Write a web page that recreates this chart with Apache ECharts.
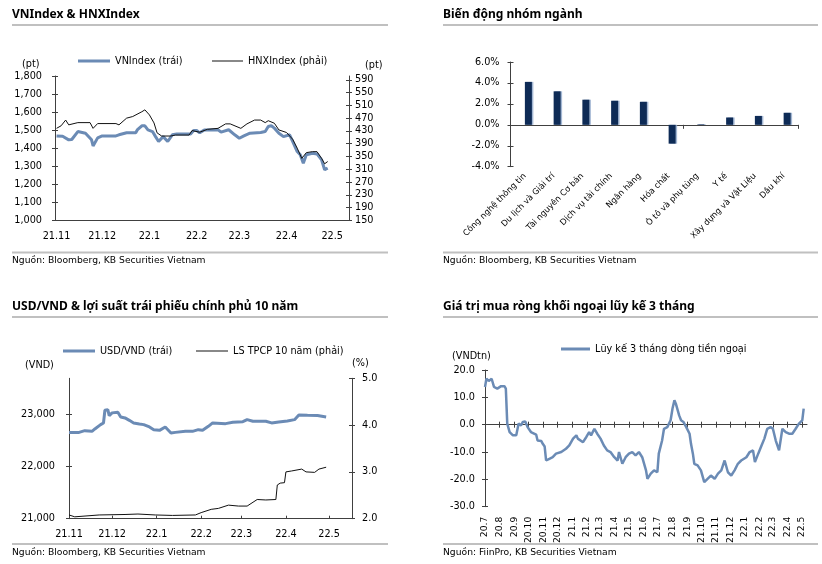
<!DOCTYPE html>
<html><head><meta charset="utf-8">
<script src="https://cdn.jsdelivr.net/npm/echarts@6/dist/echarts.min.js"></script>
<style>html,body{margin:0;padding:0;background:#fff}#c{width:822px;height:564px}</style>
</head><body><div id="c"></div>
<script>
// ---------------- DATA ----------------
const vnSeries = [['2021-11-01',1468],['2021-11-05',1466],['2021-11-09',1446],['2021-11-11',1448],['2021-11-15',1492],['2021-11-20',1483],['2021-11-24',1446],['2021-11-25',1412],['2021-11-28',1457],['2021-12-01',1468],['2021-12-10',1468],['2021-12-12',1474],['2021-12-17',1485],['2021-12-23',1485],['2021-12-24',1501],['2021-12-27',1524],['2021-12-29',1524],['2021-12-31',1501],['2022-01-03',1492],['2022-01-05',1464],['2022-01-07',1437],['2022-01-10',1464],['2022-01-13',1437],['2022-01-16',1474],['2022-01-19',1479],['2022-01-28',1479],['2022-01-30',1498],['2022-02-01',1498],['2022-02-03',1485],['2022-02-06',1501],['2022-02-15',1502],['2022-02-17',1489],['2022-02-22',1502],['2022-02-26',1474],['2022-03-01',1455],['2022-03-04',1468],['2022-03-08',1483],['2022-03-15',1487],['2022-03-18',1492],['2022-03-20',1520],['2022-03-22',1524],['2022-03-24',1511],['2022-03-27',1483],['2022-03-30',1464],['2022-04-03',1474],['2022-04-05',1437],['2022-04-08',1381],['2022-04-10',1363],['2022-04-12',1317],['2022-04-14',1363],['2022-04-18',1372],['2022-04-21',1368],['2022-04-24',1335],['2022-04-26',1280],['2022-04-28',1289]];
const hnxSeries = [['2021-11-01',438],['2021-11-04',446],['2021-11-07',464],['2021-11-09',449],['2021-11-15',456],['2021-11-23',456],['2021-11-25',438],['2021-11-28',453],['2021-12-10',453],['2021-12-12',449],['2021-12-17',470],['2021-12-21',475],['2021-12-27',490],['2021-12-29',496],['2022-01-01',480],['2022-01-04',455],['2022-01-06',424],['2022-01-09',414],['2022-01-15',414],['2022-01-18',417],['2022-01-27',417],['2022-01-29',431],['2022-02-03',426],['2022-02-08',435],['2022-02-15',438],['2022-02-20',452],['2022-02-23',452],['2022-03-02',438],['2022-03-06',452],['2022-03-11',464],['2022-03-15',464],['2022-03-18',456],['2022-03-20',462],['2022-03-24',454],['2022-03-27',433],['2022-04-01',425],['2022-04-05',404],['2022-04-08',376],['2022-04-11',344],['2022-04-14',362],['2022-04-18',365],['2022-04-21',365],['2022-04-24',344],['2022-04-26',327],['2022-04-28',334]];
const vnTicks = [1000,1100,1200,1300,1400,1500,1600,1700,1800];
const hnxTicks = [150,190,230,270,310,350,390,430,470,510,550,590];

const sectorNames = ['Công nghệ thông tin','Du lịch và Giải trí','Tài nguyên Cơ bản','Dịch vụ tài chính','Ngân hàng','Hóa chất','Ô tô và phụ tùng','Y tế','Xây dựng và Vật Liệu','Dầu khí'];
const sectorChanges = [4.1,3.2,2.4,2.3,2.2,-1.8,0.05,0.7,0.85,1.15];
const sectorTicks = [-4,-2,0,2,4,6];

const fxSeries = [['2021-11-01',22660],['2021-11-08',22660],['2021-11-12',22693],['2021-11-17',22680],['2021-11-19',22726],['2021-11-23',22809],['2021-11-25',22841],['2021-11-26',23085],['2021-11-28',23098],['2021-11-29',22983],['2021-12-01',23035],['2021-12-05',23046],['2021-12-07',22957],['2021-12-10',22938],['2021-12-13',22892],['2021-12-16',22842],['2021-12-20',22822],['2021-12-23',22809],['2021-12-27',22764],['2021-12-30',22712],['2022-01-03',22699],['2022-01-07',22764],['2022-01-11',22649],['2022-01-14',22660],['2022-01-21',22680],['2022-01-26',22680],['2022-01-30',22712],['2022-02-02',22699],['2022-02-06',22776],['2022-02-09',22842],['2022-02-18',22828],['2022-02-23',22853],['2022-03-02',22866],['2022-03-05',22905],['2022-03-09',22873],['2022-03-18',22873],['2022-03-22',22842],['2022-03-27',22860],['2022-04-02',22880],['2022-04-07',22905],['2022-04-10',22996],['2022-04-16',22988],['2022-04-23',22983],['2022-04-29',22957]];
const bondSeries = [['2021-11-01',2.08],['2021-11-05',2.04],['2021-11-22',2.08],['2021-12-10',2.09],['2021-12-19',2.10],['2021-12-31',2.08],['2022-01-12',2.07],['2022-01-28',2.08],['2022-02-01',2.13],['2022-02-08',2.20],['2022-02-13',2.22],['2022-02-20',2.29],['2022-02-27',2.27],['2022-03-05',2.27],['2022-03-12',2.41],['2022-03-18',2.40],['2022-03-25',2.41],['2022-03-26',2.72],['2022-03-28',2.76],['2022-03-31',2.77],['2022-04-01',3.00],['2022-04-05',3.02],['2022-04-12',3.06],['2022-04-15',3.00],['2022-04-21',2.99],['2022-04-24',3.06],['2022-04-29',3.10]];
const fxTicks = [21000,22000,23000];
const bondTicks = [2,3,4,5];

const flowSeries = [['2020-07-01',13.8],['2020-07-04',16.8],['2020-07-09',16.0],['2020-07-15',16.8],['2020-07-20',13.8],['2020-07-27',13.2],['2020-08-04',14.1],['2020-08-11',14.1],['2020-08-14',13.2],['2020-08-17',0.4],['2020-08-22',-2.7],['2020-08-25',-3.3],['2020-08-29',-3.9],['2020-09-05',-3.9],['2020-09-08',-3.3],['2020-09-10',0.4],['2020-09-15',-0.3],['2020-09-19',1.0],['2020-09-24',1.2],['2020-09-29',-0.9],['2020-10-06',-2.7],['2020-10-17',-3.6],['2020-10-20',-5.8],['2020-10-28',-6.0],['2020-10-31',-7.0],['2020-11-04',-8.0],['2020-11-07',-13.1],['2020-11-14',-12.5],['2020-11-21',-11.9],['2020-11-28',-10.6],['2020-12-09',-10.0],['2020-12-19',-8.8],['2020-12-26',-7.6],['2021-01-03',-5.1],['2021-01-10',-3.9],['2021-01-13',-5.1],['2021-01-24',-6.4],['2021-01-31',-4.5],['2021-02-06',-2.7],['2021-02-10',-3.9],['2021-02-17',-1.5],['2021-02-23',-3.3],['2021-03-02',-5.1],['2021-03-09',-7.6],['2021-03-16',-9.4],['2021-03-23',-10.0],['2021-03-31',-11.9],['2021-04-07',-13.1],['2021-04-10',-10.0],['2021-04-17',-14.3],['2021-04-24',-11.9],['2021-05-01',-10.6],['2021-05-08',-10.0],['2021-05-15',-11.2],['2021-05-22',-10.0],['2021-05-29',-11.9],['2021-06-06',-16.7],['2021-06-09',-19.8],['2021-06-16',-17.9],['2021-06-23',-16.7],['2021-06-30',-17.4],['2021-07-03',-10.6],['2021-07-10',-5.8],['2021-07-14',-1.5],['2021-07-21',-0.9],['2021-07-28',1.6],['2021-08-01',5.9],['2021-08-05',8.9],['2021-08-08',7.7],['2021-08-15',3.4],['2021-08-19',1.6],['2021-08-24',1.0],['2021-08-30',-0.9],['2021-09-06',-3.3],['2021-09-09',-7.0],['2021-09-13',-10.6],['2021-09-16',-14.3],['2021-09-23',-14.9],['2021-09-30',-16.7],['2021-10-07',-21.0],['2021-10-14',-19.8],['2021-10-21',-18.6],['2021-10-29',-19.8],['2021-11-05',-17.9],['2021-11-12',-16.7],['2021-11-19',-13.1],['2021-11-26',-17.4],['2021-12-03',-18.6],['2021-12-10',-16.7],['2021-12-17',-14.3],['2021-12-24',-13.1],['2022-01-04',-11.9],['2022-01-11',-10.0],['2022-01-18',-9.4],['2022-01-22',-13.7],['2022-01-29',-10.6],['2022-02-05',-7.6],['2022-02-11',-5.1],['2022-02-17',-1.5],['2022-02-24',-0.9],['2022-03-01',-1.5],['2022-03-07',-5.8],['2022-03-14',-9.4],['2022-03-21',-1.5],['2022-03-28',-2.7],['2022-04-04',-3.3],['2022-04-11',-3.3],['2022-04-18',-1.5],['2022-04-25',0.4],['2022-05-02',1.6],['2022-05-05',5.9]];
const flowTicks = [-30,-20,-10,0,10,20];

// ---------------- HELPERS ----------------
function dayRange(a, b) {
  const out = []; let d = new Date(a + 'T00:00:00Z'); const e = new Date(b + 'T00:00:00Z');
  while (d <= e) { out.push(d.toISOString().slice(0, 10)); d = new Date(d.getTime() + 86400000); }
  return out;
}
const cats1 = dayRange('2021-10-31', '2022-05-12');
const cats3 = dayRange('2021-11-01', '2022-05-17');
const cats4 = dayRange('2020-07-01', '2022-05-12');
const isMonthStart = (i, v) => v.slice(8) === '01';
const fmtMonth = v => v.slice(2, 4) + '.' + parseInt(v.slice(5, 7), 10);
const toIdx = (cats, arr) => arr.map(p => [cats.indexOf(p[0]), p[1]]);

const FONT = 'DejaVu Sans';
const AX = '#404040';
const BLUE = '#6b8bb5';
const LAB = {fontFamily: FONT, fontSize: 9.7, color: '#000'};

function yAx(grid, pos, min, max, ticks, fmt, margin) {
  return {type: 'value', gridIndex: grid, position: pos, min, max, splitLine: {show: false},
    axisLine: {show: true, lineStyle: {color: AX, width: 1}},
    axisTick: {show: true, inside: false, length: 3, lineStyle: {color: AX}, customValues: ticks},
    axisLabel: Object.assign({margin, formatter: fmt, customValues: ticks}, LAB)};
}
function yDup(grid, pos, min, max, ticks) {
  return {type: 'value', gridIndex: grid, position: pos, min, max, splitLine: {show: false},
    axisLine: {show: false}, axisLabel: {show: false},
    axisTick: {show: true, inside: true, length: 3, lineStyle: {color: AX}, customValues: ticks}};
}
const comma = v => v.toLocaleString('en-US');

// ---------------- GRAPHICS ----------------
function text(x, y, t, o) {
  return {type: 'text', x, y, silent: true, style: Object.assign({text: t, fill: '#000', fontFamily: FONT, fontSize: 9.7, align: 'left', verticalAlign: 'middle'}, o || {})};
}
function rule(x1, x2, y) { return {type: 'line', silent: true, shape: {x1, y1: y, x2, y2: y}, style: {stroke: '#c0c0c0', lineWidth: 2}}; }
const TITLE = {fontFamily: 'Noto Sans', fontWeight: 'bold', fontSize: 12};
const FOOT = {fontSize: 9.2};

const graphics = [
  text(12, 15, 'VNIndex & HNXIndex', TITLE), rule(12, 388, 25), rule(12, 388, 252.5), text(12, 261, 'Nguồn: Bloomberg, KB Securities Vietnam', FOOT),
  text(443, 15, 'Biến động nhóm ngành', TITLE), rule(443, 818, 25), rule(443, 818, 252.5), text(443, 261, 'Nguồn: Bloomberg, KB Securities Vietnam', FOOT),
  text(12, 306.5, 'USD/VND & lợi suất trái phiếu chính phủ 10 năm', TITLE), rule(12, 388, 317), rule(12, 388, 544), text(12, 552.5, 'Nguồn: Bloomberg, KB Securities Vietnam', FOOT),
  text(443, 306.5, 'Giá trị mua ròng khối ngoại lũy kế 3 tháng', TITLE), rule(443, 818, 317), rule(443, 818, 544), text(443, 552.5, 'Nguồn: FiinPro, KB Securities Vietnam', FOOT),
  text(22, 64, '(pt)'), text(365, 65, '(pt)'),
  text(25, 365, '(VND)'), text(352, 363, '(%)'),
  text(452, 356, '(VNDtn)')
];

function lg(left, top, name, w, h) {
  return {data: [{name, icon: 'rect'}], left, top, padding: 0, itemWidth: w, itemHeight: h, selectedMode: false,
    textStyle: {fontFamily: FONT, fontSize: 9.7, color: '#000'}};
}

const catX = (grid, cats, extra) => Object.assign({type: 'category', gridIndex: grid, data: cats, position: 'bottom', boundaryGap: false}, extra);

const option = {
  animation: false,
  backgroundColor: '#fff',
  graphic: graphics,
  legend: [
    lg(78, 56, 'VNIndex (trái)', 32, 3), lg(212, 56, 'HNXIndex (phải)', 31, 1),
    lg(63, 346, 'USD/VND (trái)', 32, 3), lg(196, 346, 'LS TPCP 10 năm (phải)', 32, 1),
    lg(561, 344, 'Lũy kế 3 tháng dòng tiền ngoại', 29, 3)
  ],
  grid: [
    {left: 55, top: 76, width: 294, height: 144.3},
    {left: 510.5, top: 62, width: 287.5, height: 104.7},
    {left: 69, top: 378.3, width: 283, height: 140.4},
    {left: 485, top: 370, width: 322, height: 136.7}
  ],
  xAxis: [
    // 0 panel 1
    catX(0, cats1, {axisLine: {onZero: false, lineStyle: {color: AX}}, axisTick: {show: false},
      axisLabel: Object.assign({interval: isMonthStart, formatter: fmtMonth, margin: 11}, LAB)}),
    // 1 panel 2 zero line axis
    {type: 'category', gridIndex: 1, data: sectorNames, position: 'bottom',
      axisLine: {onZero: true, onZeroAxisIndex: 4, lineStyle: {color: AX}},
      axisTick: {show: true, length: 4, lineStyle: {color: AX}}, axisLabel: {show: false}},
    // 2 panel 2 label axis
    {type: 'category', gridIndex: 1, data: sectorNames, position: 'bottom',
      axisLine: {show: false, onZero: false}, axisTick: {show: false},
      axisLabel: {rotate: 45, margin: 8, interval: 0, fontFamily: FONT, fontSize: 8.3, color: '#000'}},
    // 3 panel 3
    catX(2, cats3, {axisLine: {onZero: false, lineStyle: {color: AX}},
      axisTick: {show: true, inside: true, length: 3, interval: isMonthStart, lineStyle: {color: AX}},
      axisLabel: Object.assign({interval: isMonthStart, formatter: fmtMonth, margin: 11}, LAB)}),
    // 4 panel 4 zero axis
    catX(3, cats4, {axisLine: {onZero: true, onZeroAxisIndex: 10, lineStyle: {color: AX}},
      axisTick: {show: true, length: 3, interval: isMonthStart, lineStyle: {color: AX}}, axisLabel: {show: false}}),
    // 5 panel 4 zero axis inside ticks
    catX(3, cats4, {axisLine: {show: false, onZero: true, onZeroAxisIndex: 10},
      axisTick: {show: true, inside: true, length: 3, interval: isMonthStart, lineStyle: {color: AX}}, axisLabel: {show: false}}),
    // 6 panel 4 label axis
    catX(3, cats4, {axisLine: {show: false, onZero: false}, axisTick: {show: false},
      axisLabel: Object.assign({interval: isMonthStart, formatter: fmtMonth, rotate: 90, margin: 10}, LAB, {fontSize: 9.2})})
  ],
  yAxis: [
    yAx(0, 'left', 1000, 1800, vnTicks, comma, 13),            // 0
    yDup(0, 'left', 1000, 1800, vnTicks),                      // 1
    yAx(0, 'right', 150, 602, hnxTicks, v => String(v), 6),    // 2
    yDup(0, 'right', 150, 602, hnxTicks),                      // 3
    yAx(1, 'left', -4, 6, sectorTicks, v => v.toFixed(1) + '%', 11), // 4
    yDup(1, 'left', -4, 6, sectorTicks),                       // 5
    yAx(2, 'left', 21000, 23700, fxTicks, comma, 14),          // 6
    yDup(2, 'left', 21000, 23700, fxTicks),                    // 7
    yAx(2, 'right', 2, 5, bondTicks, v => v.toFixed(1), 10),   // 8
    yDup(2, 'right', 2, 5, bondTicks),                         // 9
    yAx(3, 'left', -30, 20, flowTicks, v => v.toFixed(1), 10), // 10
    yDup(3, 'left', -30, 20, flowTicks)                        // 11
  ],
  series: [
    {name: 'VNIndex (trái)', type: 'line', xAxisIndex: 0, yAxisIndex: 0, data: toIdx(cats1, vnSeries),
      symbol: 'none', color: BLUE, lineStyle: {width: 3, color: BLUE}},
    {name: 'HNXIndex (phải)', type: 'line', xAxisIndex: 0, yAxisIndex: 2, data: toIdx(cats1, hnxSeries),
      symbol: 'none', color: '#111', lineStyle: {width: 1, color: '#111'}},
    {name: 'spacer', type: 'bar', xAxisIndex: 1, yAxisIndex: 4, data: [], barWidth: 7, barGap: '0%'},
    {name: 'Biến động', type: 'bar', xAxisIndex: 1, yAxisIndex: 4, data: sectorChanges, barWidth: 7, barGap: '0%',
      itemStyle: {color: '#0e2b56', shadowColor: 'rgba(140,165,200,0.8)', shadowOffsetX: 1.5, shadowBlur: 0}},
    {name: 'USD/VND (trái)', type: 'line', xAxisIndex: 3, yAxisIndex: 6, data: toIdx(cats3, fxSeries),
      symbol: 'none', color: BLUE, lineStyle: {width: 3, color: BLUE}},
    {name: 'LS TPCP 10 năm (phải)', type: 'line', xAxisIndex: 3, yAxisIndex: 8, data: toIdx(cats3, bondSeries),
      symbol: 'none', color: '#111', lineStyle: {width: 1, color: '#111'}},
    {name: 'Lũy kế 3 tháng dòng tiền ngoại', type: 'line', xAxisIndex: 4, yAxisIndex: 10, data: toIdx(cats4, flowSeries),
      symbol: 'none', color: BLUE, lineStyle: {width: 2.5, color: BLUE}}
  ]
};
const chart = echarts.init(document.getElementById('c'));
chart.setOption(option);
</script>
</body></html>
